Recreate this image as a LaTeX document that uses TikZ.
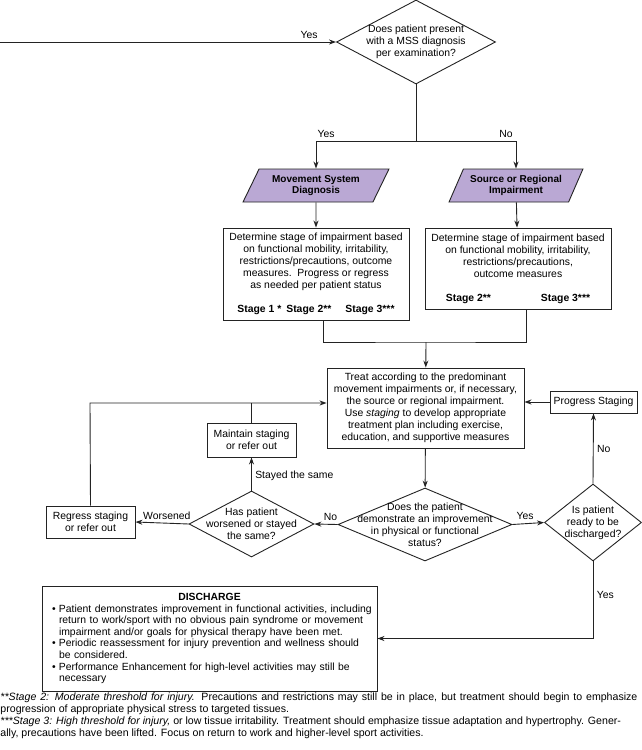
\documentclass[tikz,border=0pt]{standalone}
\usepackage{fontspec}
\setmainfont{Liberation Sans}
\usetikzlibrary{shapes.geometric,arrows.meta,positioning}
\definecolor{lavender}{RGB}{186,168,212}
\definecolor{ink}{RGB}{35,35,35}

\begin{document}
\begin{tikzpicture}[x=1pt, y=-1pt, >={Stealth[length=7pt,width=5pt]}, line width=0.9pt, draw=ink,
  font=\fontsize{10.4}{12}\selectfont,
  box/.style={draw, align=center, inner sep=2pt},
  para/.style={draw, fill=lavender, trapezium, trapezium left angle=59, trapezium right angle=121,
    trapezium stretches=true, minimum height=33pt, align=center, inner sep=0pt,
    font=\fontsize{10}{11.5}\selectfont\bfseries},
  decision/.style={draw, diamond, aspect=2, align=center, inner xsep=-25pt, inner ysep=-12pt},
  note/.style={anchor=west, align=left, inner sep=0pt, font=\fontsize{10.6}{12}\selectfont}]
  \useasboundingbox (0,0) rectangle (642,750);

  % first question
  \coordinate (entry) at (0,42);
  \node[decision, minimum width=159pt, minimum height=84pt] (mss) at (416,42)
    {Does patient present\\with a MSS diagnosis\\per examination?};
  \draw[->] (entry) -- node[above, pos=0.92] {Yes} (mss.west);
  \coordinate (split) at (416,141);
  \draw (mss.south) -- (split);

  % the two diagnoses
  \node[para, minimum width=146pt] (msd) at (316,185.5) {Movement System\\Diagnosis};
  \node[para, minimum width=134pt] (sri) at (516,185.5) {Source or Regional\\Impairment};
  \draw[->] (split) -| node[pos=0.45, above] {Yes} (msd.north);
  \draw[->] (split) -| node[pos=0.45, above] {No} (sri.north);

  \node[box, minimum width=186pt, minimum height=92pt] (msdstage) at (316,274)
    {Determine stage of impairment based\\on functional mobility, irritability,\\
     restrictions/precautions, outcome\\measures.\ \ Progress or regress\\
     as needed per patient status\\[12pt]
     \textbf{Stage 1 *\hspace{5pt}Stage 2**\hspace{14pt}Stage 3***}};
  \node[box, minimum width=186pt, minimum height=81pt] (sristage) at (518,268.5)
    {Determine stage of impairment based\\on functional mobility, irritability,\\
     restrictions/precautions,\\outcome measures\\[12pt]
     \textbf{Stage 2**\hspace{50pt}Stage 3***}};
  \draw[->] (msd) -- (msdstage);
  \draw[->] (sri) -- (sristage);

  % treatment
  \node[box, minimum width=197pt, minimum height=80pt] (treat) at (425.5,408)
    {Treat according to the predominant\\movement impairments or, if necessary,\\
     the source or regional impairment.\\Use \textit{staging} to develop appropriate\\
     treatment plan including exercise,\\education, and supportive measures};
  \coordinate (merge) at (426,342);
  \draw ([xshift=7pt]msdstage.south) |- (merge) -| ([xshift=8pt]sristage.south);
  \draw[->] (merge) -- (treat);

  % reassessment
  \node[decision, minimum width=174pt, minimum height=73pt] (improve) at (425,524.5)
    {Does the patient\\demonstrate an improvement\\in physical or functional\\status?};
  \node[decision, minimum width=125pt, minimum height=66pt] (worse) at (251.5,524)
    {Has patient\\worsened or stayed\\the same?};
  \node[decision, minimum width=97pt, minimum height=77pt] (ready) at (593,522.5)
    {Is patient\\ready to be\\discharged?};
  \node[box, minimum width=89pt, minimum height=34pt] (maintain) at (251.5,440)
    {Maintain staging\\or refer out};
  \node[box, minimum width=89pt, minimum height=32pt] (regress) at (90.5,522)
    {Regress staging\\or refer out};
  \node[box, minimum width=87pt, minimum height=22pt] (progress) at (593.5,402) {Progress Staging};

  \draw[->] (treat) -- (improve);
  \draw[->] (improve.west) -- node[above, pos=0.3] {No} (worse.east);
  \draw[->] (improve.east) -- node[above, pos=0.4] {Yes} (ready.west);
  \draw[->] (worse.west) -- node[above, pos=0.41] {Worsened} (regress.east);
  \draw[->] (worse.north) -- node[right, pos=0.45] {Stayed the same} (maintain.south);
  \draw[->] (ready.north) -- node[right, pos=0.5] {No} (progress.south);
  \draw[->] (progress.west) -- (progress.west -| treat.east);
  \coordinate (back) at (90,403);
  \draw[->] (regress.north) -- (back) -- ([yshift=5pt]treat.west);
  \draw (maintain.north) -- (maintain.north |- back);

  % discharge
  \node[draw, minimum width=335pt, minimum height=105pt, text width=327pt, inner xsep=4pt,
    align=left, font=\fontsize{10.4}{11.6}\selectfont] (discharge) at (209.5,638.5)
    {\makebox[327pt]{\textbf{DISCHARGE}}\\
     \hspace*{6pt}\makebox[7pt][l]{•}Patient demonstrates improvement in functional activities, including\\
     \hspace*{13pt}return to work/sport with no obvious pain syndrome or movement\\
     \hspace*{13pt}impairment and/or goals for physical therapy have been met.\\
     \hspace*{6pt}\makebox[7pt][l]{•}Periodic reassessment for injury prevention and wellness should\\
     \hspace*{13pt}be considered.\\
     \hspace*{6pt}\makebox[7pt][l]{•}Performance Enhancement for high-level activities may still be\\
     \hspace*{13pt}necessary};
  \draw[->] (ready.south) |- node[right, pos=0.22] {Yes} (discharge.east);

  % footnotes
  \node[note] (stagetwo) at (0,704)
    {\makebox[637pt][s]{\textit{**Stage 2: Moderate threshold for injury.} Precautions and restrictions may still be in place, but treatment should begin to emphasize}\\
     progression of appropriate physical stress to targeted tissues.};
  \node[note] (stagethree) at (0,728)
    {\textit{***Stage 3: High threshold for injury,} or low tissue irritability. Treatment should emphasize tissue adaptation and hypertrophy. Gener-\\
     ally, precautions have been lifted. Focus on return to work and higher-level sport activities.};
\end{tikzpicture}
\end{document}
